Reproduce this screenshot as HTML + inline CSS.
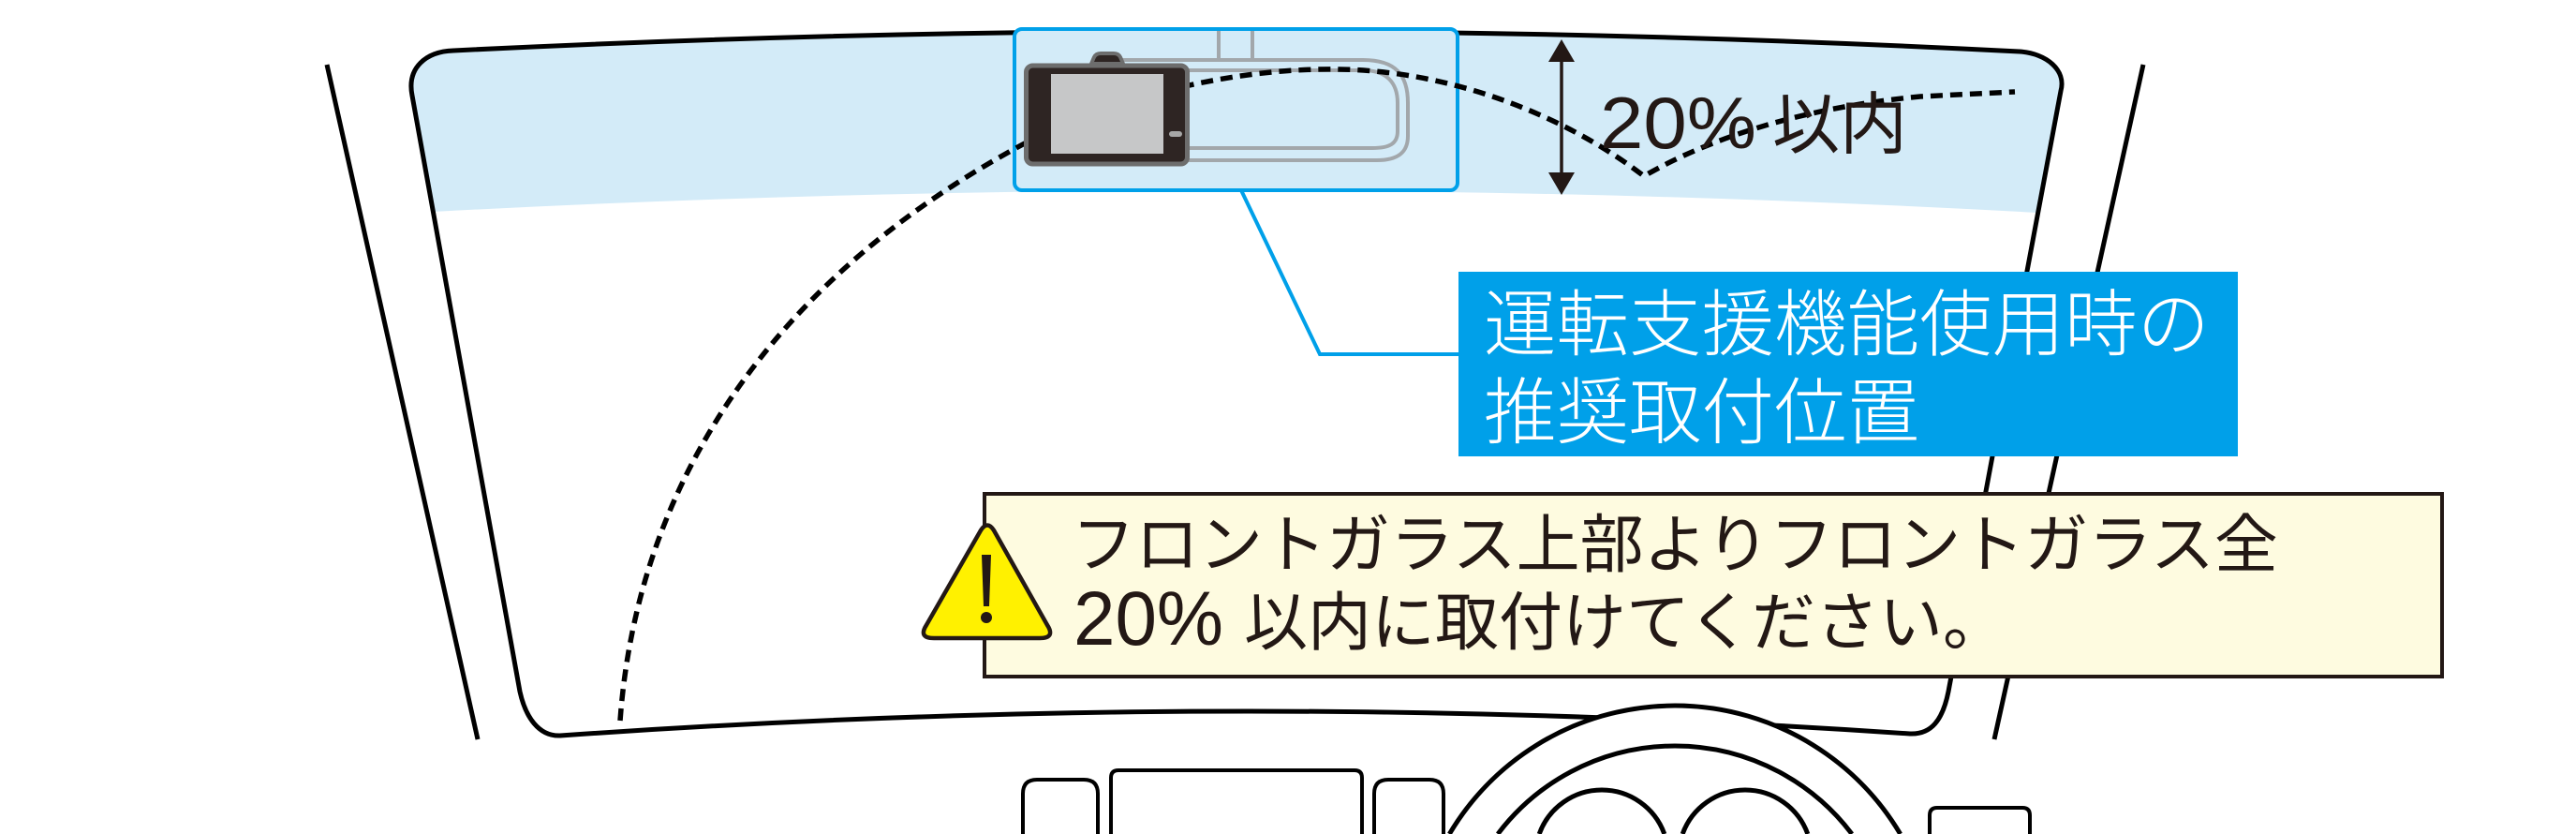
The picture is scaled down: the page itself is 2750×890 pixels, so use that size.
<!DOCTYPE html>
<html><head><meta charset="utf-8"><style>
html,body{margin:0;padding:0;background:#fff;width:2750px;height:890px;overflow:hidden;}
svg{display:block;overflow:hidden;}
text{font-family:"Liberation Sans","Noto Sans CJK JP",sans-serif;}
.lt{font-family:"Noto Sans CJK JP Light","Noto Sans CJK JP DemiLight","Liberation Sans","Noto Sans CJK JP",sans-serif;font-weight:300;}
</style></head><body>
<svg width="2750" height="890" viewBox="0 0 2750 890" xmlns="http://www.w3.org/2000/svg">
<defs>
<clipPath id="ws"><path d="M484,54 Q1320,12 2156,55 C2185,57 2206,75 2200,97 L2080,738 C2074,768 2062,784 2039,783 Q1320,734 598,785 C575,786 561,765 555,738 L440,102 C434,72 455,55 484,54 Z"/></clipPath>
</defs>
<!-- outer pillars -->
<line x1="349" y1="69" x2="510" y2="789" stroke="#000" stroke-width="5"/>
<line x1="2288" y1="69" x2="2129" y2="789" stroke="#000" stroke-width="5"/>
<!-- band -->
<path clip-path="url(#ws)" d="M440,30 L2200,30 L2200,227 L2176,227 Q1320,180 462,226 L440,226 Z" fill="#d3ebf8"/>
<!-- windshield -->
<path d="M484,54 Q1320,12 2156,55 C2185,57 2206,75 2200,97 L2080,738 C2074,768 2062,784 2039,783 Q1320,734 598,785 C575,786 561,765 555,738 L440,102 C434,72 455,55 484,54 Z" fill="none" stroke="#000" stroke-width="5"/>
<!-- highlight box -->
<rect x="1083" y="31" width="473" height="172" rx="8" fill="#d3ebf8" stroke="#00a0e9" stroke-width="4"/>
<!-- mirror -->
<g stroke="#a2a7ab" stroke-width="4" fill="none">
<line x1="1301" y1="33" x2="1301" y2="64"/>
<line x1="1337" y1="33" x2="1337" y2="64"/>
<path d="M1190,64 L1455,64 C1490,64 1503,80 1503,110 L1503,145 C1503,163 1492,171 1470,171 L1260,171"/>
<path d="M1260,75 L1455,75 C1480,75 1492,88 1492,110 L1492,140 C1492,153 1484,158 1465,158 L1260,158"/>
</g>
<!-- dashed line -->
<path d="M662,769 C680,520 820,300 1092,154 C1200,98 1330,72 1430,74 C1560,76 1680,130 1755,188 C1820,150 1920,115 2050,103 L2151,98" fill="none" stroke="#000" stroke-width="5.5" stroke-dasharray="13 8"/>
<!-- camera -->
<path d="M1165,68 L1168,61 Q1170,57 1175,57 L1189,57 Q1194,57 1196,61 L1199,68 Z" fill="#2e2523" stroke="#6d6d6d" stroke-width="4"/>
<rect x="1095.5" y="70" width="172" height="105" rx="7" fill="#2e2523" stroke="#6d6d6d" stroke-width="5"/>
<rect x="1122" y="79" width="120" height="85" fill="#c6c7c8"/>
<rect x="1248" y="140" width="14" height="6" rx="3" fill="#a7a7a7"/>
<!-- arrow -->
<line x1="1667" y1="60" x2="1667" y2="190" stroke="#231815" stroke-width="3.5"/>
<polygon points="1667,42 1653,66 1681,66" fill="#231815"/>
<polygon points="1667,208 1653,184 1681,184" fill="#231815"/>
<text x="1708" y="158" font-size="78" fill="#231815" textLength="167" lengthAdjust="spacingAndGlyphs">20%</text>
<text x="1892" y="158" font-size="72" fill="#231815">以内</text>
<!-- leader + label -->
<polyline points="1325,203 1409,378 1558,378" fill="none" stroke="#00a0e9" stroke-width="4"/>
<rect x="1557" y="290" width="832" height="197" fill="#00a0e9"/>
<text class="lt" x="1584" y="373" font-size="77.5" fill="#fff">運転支援機能使用時の</text>
<text class="lt" x="1584" y="467" font-size="77.5" fill="#fff">推奨取付位置</text>
<!-- warning box -->
<rect x="1051" y="527" width="1556" height="195" fill="#fefbe0" stroke="#231815" stroke-width="4"/>
<path d="M1047,566 Q1054,555 1061,566 L1118,667 Q1127,681 1110,681 L997,681 Q980,681 989,667 Z" fill="#fff100" stroke="#231815" stroke-width="4.5" stroke-linejoin="round"/>
<path d="M1048,592 L1058,592 L1056,647 L1050,647 Z" fill="#231815"/>
<circle cx="1053" cy="659" r="6" fill="#231815"/>
<text x="1144" y="605" font-size="68" fill="#231815">フロントガラス上部よりフロントガラス全</text>
<text x="1146" y="688" font-size="82" fill="#231815" textLength="160" lengthAdjust="spacingAndGlyphs">20%</text>
<text x="1328" y="688" font-size="68" fill="#231815">以内に取付けてください。</text>
<!-- steering wheel (arcs clipped at frame bottom) -->
<path d="M1547.3,890 A280,280 0 0,1 2028.7,890 Z" fill="#fff"/>
<g fill="none" stroke="#000" stroke-width="5">
<path d="M1547.3,890 A280,280 0 0,1 2028.7,890"/>
<path d="M1599,890 A237,237 0 0,1 1977,890"/>
<path d="M1643.2,890 A71,71 0 0,1 1776.8,890"/>
<path d="M1796.2,890 A71,71 0 0,1 1929.8,890"/>
</g>
<!-- dashboard items -->
<g fill="#fff" stroke="#000" stroke-width="4">
<path d="M1092,890 L1092,847 Q1092,832 1107,832 L1157,832 Q1172,832 1172,847 L1172,890"/>
<path d="M1186,890 L1186,830 Q1186,822 1194,822 L1446,822 Q1454,822 1454,830 L1454,890"/>
<path d="M1467,890 L1467,847 Q1467,832 1482,832 L1526,832 Q1541,832 1541,847 L1541,890"/>
<path d="M2060,890 L2060,870 Q2060,862 2068,862 L2159,862 Q2167,862 2167,870 L2167,890"/>
</g>
</svg>
</body></html>
